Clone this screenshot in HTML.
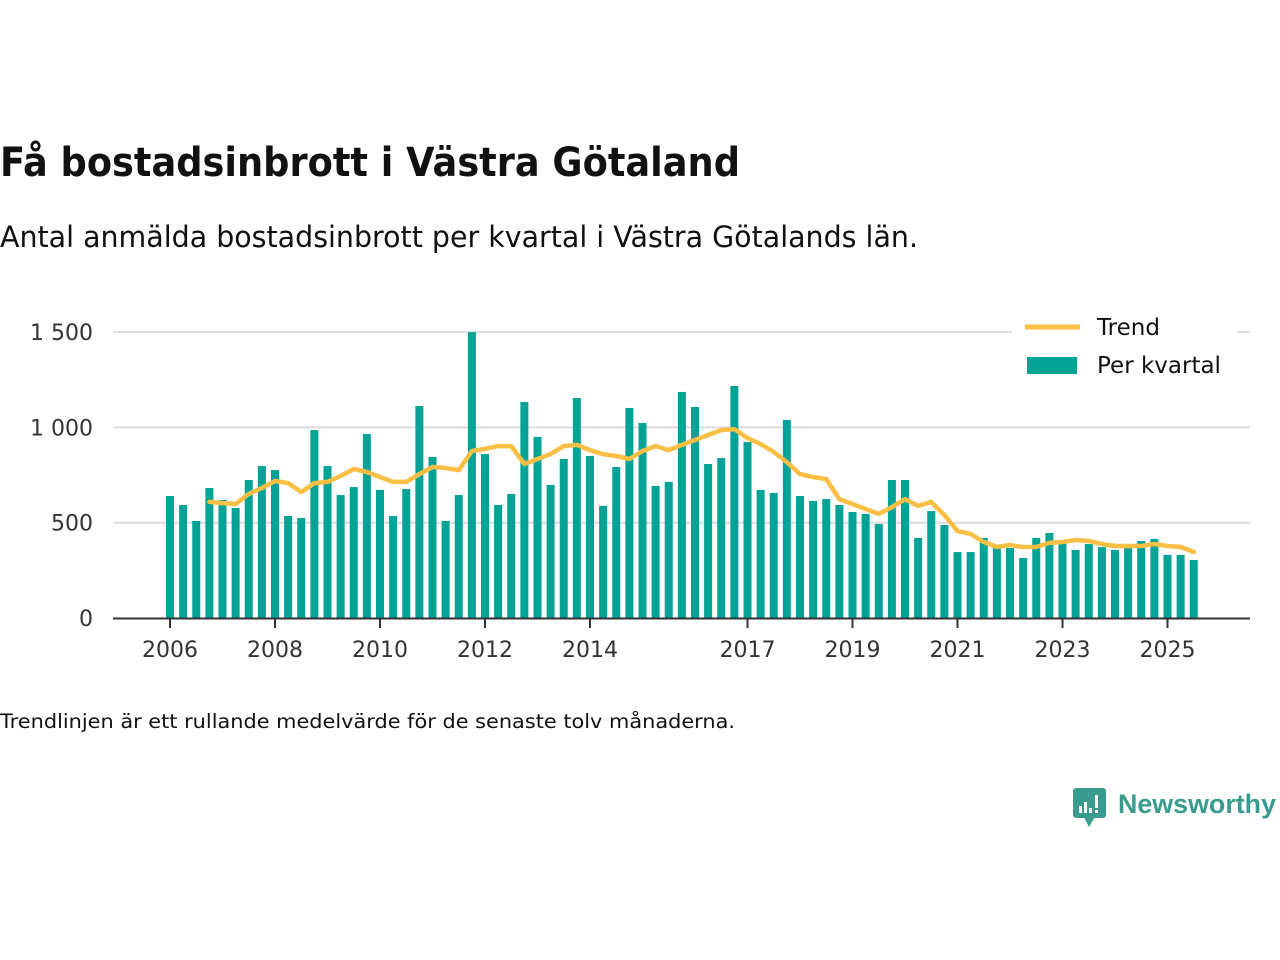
<!DOCTYPE html>
<html><head><meta charset="utf-8"><style>
html,body{margin:0;padding:0;background:#fff;width:1280px;height:960px;overflow:hidden}
svg{display:block;font-family:"DejaVu Sans","Liberation Sans",sans-serif}
</style></head><body>
<svg id="chart" width="1280" height="960">
<text x="0" y="176" font-size="40" font-weight="bold" fill="#111" textLength="740" lengthAdjust="spacingAndGlyphs">Få bostadsinbrott i Västra Götaland</text>
<text x="0" y="247" font-size="29" fill="#111" textLength="918" lengthAdjust="spacingAndGlyphs">Antal anmälda bostadsinbrott per kvartal i Västra Götalands län.</text>
<g id="grid"></g>
<g id="bars"></g>
<g id="trend"></g>
<g id="axes"></g>
<g>
<rect x="1012" y="310" width="225" height="75" fill="#fff"/>
<line x1="1025" y1="327" x2="1080" y2="327" stroke="#fbbf45" stroke-width="5"/>
<text x="1097" y="335" font-size="23" fill="#111">Trend</text>
<rect x="1027" y="357" width="50" height="17" fill="#00a396"/>
<text x="1097" y="373" font-size="23" fill="#111">Per kvartal</text>
</g>
<text x="0" y="728" font-size="19.5" fill="#111" textLength="735" lengthAdjust="spacingAndGlyphs">Trendlinjen är ett rullande medelvärde för de senaste tolv månaderna.</text>
<g>
<rect x="1073" y="788" width="33" height="30" rx="3" fill="#3a9b8f"/>
<polygon points="1084,817 1095,817 1089,827" fill="#3a9b8f"/>
<rect x="1079" y="806" width="3" height="7" fill="#fff"/><rect x="1084" y="802" width="3" height="11" fill="#fff"/><rect x="1089" y="808" width="3" height="5" fill="#fff"/><rect x="1095" y="795" width="3" height="13" fill="#fff"/><rect x="1095" y="810" width="3" height="3" fill="#fff"/>
<text x="1118" y="813" font-size="27" font-weight="bold" fill="#3a9b8f" font-family="Liberation Sans, sans-serif" textLength="158" lengthAdjust="spacingAndGlyphs">Newsworthy</text>
</g>
</svg>
<script>
const values = [640,593,509,682,619,577,724,797,776,535,525,986,797,645,687,965,672,535,677,1112,845,509,645,1500,860,593,651,1133,950,698,834,1154,850,588,792,1102,1023,693,714,1186,1107,808,839,1217,923,672,656,1039,640,614,624,593,556,546,493,724,724,420,561,488,346,346,420,367,367,315,420,446,394,357,388,372,357,367,404,415,331,331,304];
const trendStart = 3;
const trend = [609,603,598,651,682,719,708,661,708,714,745,782,766,740,714,714,755,792,787,776,876,887,902,902,808,834,860,902,908,881,860,850,834,876,902,881,908,934,960,986,991,944,913,871,818,755,740,729,624,598,572,546,582,624,588,609,540,456,441,399,373,383,372,373,394,399,409,404,388,378,378,378,388,378,373,346];
const yTicks = [0,500,1000,1500];
const yTickLabels = ["0","500","1 000","1 500"];
const xTickIdx = [0,8,16,24,32,44,52,60,68,76];
const xTickLabels = ["2006","2008","2010","2012","2014","2017","2019","2021","2023","2025"];
const NS="http://www.w3.org/2000/svg";
const x = i => 170 + i*13.125;
const y = v => 618 - v*(95.3/500);
function mk(tag, attrs, parent){const e=document.createElementNS(NS,tag);for(const k in attrs)e.setAttribute(k,attrs[k]);parent.appendChild(e);return e;}
const grid=document.getElementById('grid'), bars=document.getElementById('bars'), tr=document.getElementById('trend'), axes=document.getElementById('axes');
yTicks.forEach((t,i)=>{
  if(t>0){const g=mk('line',{x1:113,x2:1250,y1:y(t),y2:y(t),stroke:'#dcdcdc','stroke-width':2},grid);
  
  }
  const l=mk('text',{x:93,y:y(t)+8,'font-size':22,fill:'#333','text-anchor':'end'},axes);
  l.textContent=yTickLabels[i];
  
  
});
values.forEach((v,i)=>{
  const r=mk('rect',{x:x(i)-4,y:y(v),width:8,height:618-y(v),fill:'#00a396'},bars);
  
  
});
const pts=trend.map((v,i)=>x(i+trendStart).toFixed(1)+','+y(v).toFixed(1)).join(' ');
const pl=mk('polyline',{points:pts,fill:'none',stroke:'#fbbf45','stroke-width':4.5,'stroke-linejoin':'round','stroke-linecap':'round'},tr);


const ax=mk('line',{x1:113,x2:1250,y1:618.5,y2:618.5,stroke:'#333','stroke-width':2},axes);


xTickIdx.forEach((ti,i)=>{
  const t=mk('line',{x1:x(ti),x2:x(ti),y1:618,y2:628,stroke:'#333','stroke-width':2},axes);
  
  
  const l=mk('text',{x:x(ti),y:657,'font-size':22,fill:'#333','text-anchor':'middle'},axes);
  l.textContent=xTickLabels[i];
  
  
});
</script>
</body></html>
